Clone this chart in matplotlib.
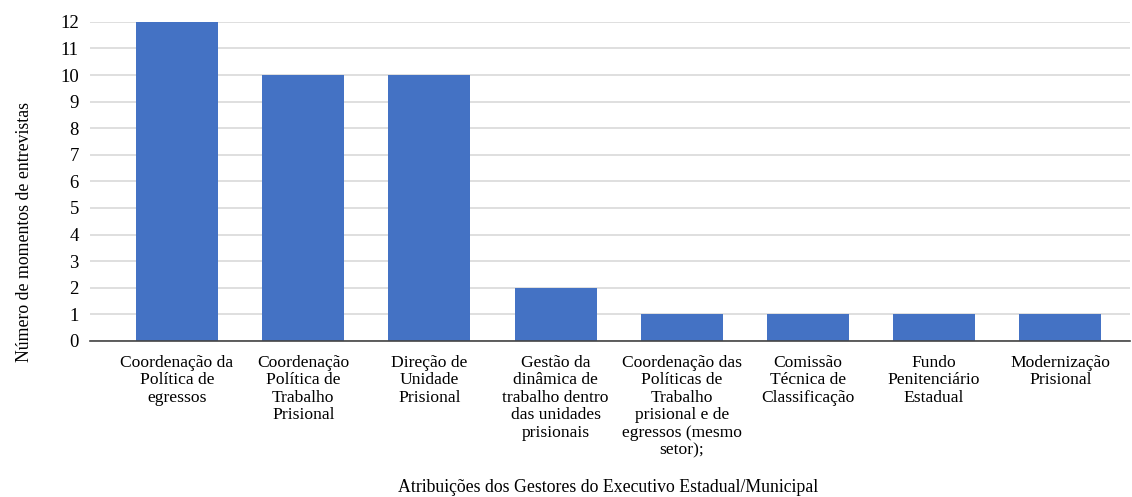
import matplotlib
matplotlib.use("Agg")
import matplotlib.pyplot as plt

categories = [
    "Coordenação da\nPolítica de\negressos",
    "Coordenação\nPolítica de\nTrabalho\nPrisional",
    "Direção de\nUnidade\nPrisional",
    "Gestão da\ndinâmica de\ntrabalho dentro\ndas unidades\nprisionais",
    "Coordenação das\nPolíticas de\nTrabalho\nprisional e de\negressos (mesmo\nsetor);",
    "Comissão\nTécnica de\nClassificação",
    "Fundo\nPenitenciário\nEstadual",
    "Modernização\nPrisional",
]
values = [12, 10, 10, 2, 1, 1, 1, 1]
yticks = list(range(0, 13))

SERIF = ['Liberation Serif', 'DejaVu Serif']
plt.rcParams['font.family'] = SERIF

fig = plt.figure(figsize=(11.32, 4.97), dpi=100)
ax = fig.add_axes([0.0795, 0.314, 0.9185, 0.642])

x = list(range(len(categories)))
ax.bar(x, values, width=0.65, color="#4472C4", zorder=3)

ax.set_xlim(-0.69, 7.55)
ax.set_ylim(0, 12)
ax.set_yticks(yticks)
ax.set_yticklabels([str(t) for t in yticks], fontsize=13.5, family=SERIF)
ax.set_xticks(x)
ax.set_xticklabels(categories, fontsize=12.6, linespacing=1.12, va='top', family=SERIF)
ax.tick_params(axis='y', length=0, pad=8)
ax.tick_params(axis='x', length=0, pad=10)
ax.yaxis.grid(True, color="#d9d9d9", linewidth=1.2, zorder=0)
for s in ['top', 'right', 'left']:
    ax.spines[s].set_visible(False)
ax.spines['bottom'].set_color('#444444')
ax.spines['bottom'].set_linewidth(1.2)
ax.spines['bottom'].set_zorder(4)

fig.text(0.022, 0.533, "Número de momentos de entrevistas", rotation=90,
         ha='center', va='center', fontsize=12.8, family=SERIF)
fig.text(0.537, 0.003, "Atribuições dos Gestores do Executivo Estadual/Municipal",
         ha='center', va='bottom', fontsize=12.8, family=SERIF)

fig.savefig("out.png", dpi=100)
